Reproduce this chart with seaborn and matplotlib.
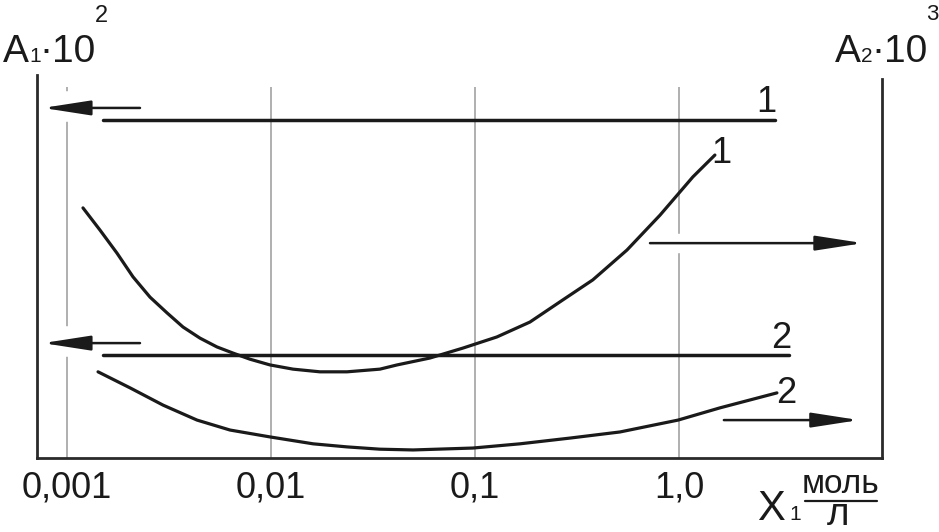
import matplotlib.pyplot as plt
from matplotlib.patches import FancyArrowPatch
import seaborn as sns

# concentration X1, mol/l  (log axis); y in relative units of the plot height
curve1_x = [0.001198, 0.001452, 0.001758, 0.002107, 0.002553, 0.003092, 0.003705,
            0.004487, 0.005434, 0.006511, 0.007887, 0.00989, 0.01283, 0.01738,
            0.02358, 0.0342, 0.0415, 0.0601, 0.0873, 0.128, 0.186, 0.270, 0.378,
            0.556, 0.807, 1.17, 1.50]
curve1_y = [65.3, 59.5, 53.5, 47.3, 42.0, 37.9, 34.2, 31.3, 29.0, 27.4, 25.8, 24.3,
            23.2, 22.5, 22.5, 23.2, 24.3, 26.1, 28.7, 31.6, 35.5, 41.3, 46.5, 54.3,
            63.4, 73.4, 79.1]
curve2_x = [0.00142, 0.00204, 0.00296, 0.00434, 0.0063, 0.0099, 0.0161, 0.02358,
            0.0342, 0.0497, 0.0977, 0.166, 0.292, 0.514, 0.99, 1.59, 3.02]
curve2_y = [22.5, 18.3, 13.8, 9.9, 7.3, 5.5, 3.7, 2.9, 2.3, 2.1, 2.6, 3.7, 5.2, 6.8,
            9.9, 13.1, 17.0]
line1_x = [0.0015, 2.95]
line1_y = [88.3, 88.3]
line2_x = [0.0015, 3.46]
line2_y = [26.9, 26.9]

tick_values = [0.001, 0.01, 0.1, 1.0]
tick_labels = ['0,001', '0,01', '0,1', '1,0']

# arrows: (tail x, tip x, y) -> which axis a curve belongs to
left_arrows = [(0.00228, 0.000762, 91.4), (0.00228, 0.000762, 30.0)]
right_arrows = [(0.721, 7.98, 56.1), (1.66, 7.62, 9.9)]

sns.set_style('white')
plt.rcParams['font.family'] = ['Liberation Sans Narrow', 'Liberation Sans', 'DejaVu Sans']
ink = '#1a1a1a'

fig = plt.figure(figsize=(9.39, 5.32), dpi=100)
ax = fig.add_axes([37 / 939, 1 - 458 / 532, (882 - 37) / 939, (458 - 75) / 532])
ax.set_xscale('log')
ax.set_xlim(0.000713, 9.89)
ax.set_ylim(0, 100)

# thin gray grid, stopping a little below the top
ax.vlines(tick_values, 0, 96.9, color='#9a9a9a', lw=1.1, zorder=0)

# white gaps in the grid behind the arrows
for tail, tip, y in left_arrows:
    ax.plot([0.00088, 0.00114], [y + 0.5, y + 0.5], color='white', lw=22,
            solid_capstyle='butt', zorder=1)
ax.plot([0.9, 1.1], [right_arrows[0][2], right_arrows[0][2]], color='white', lw=14,
        solid_capstyle='butt', zorder=1)

for xs, ys, w in [(curve1_x, curve1_y, 2.3), (curve2_x, curve2_y, 2.3),
                  (line1_x, line1_y, 2.5), (line2_x, line2_y, 2.5)]:
    sns.lineplot(x=xs, y=ys, ax=ax, color=ink, lw=w, sort=False, estimator=None,
                 zorder=3)

for tail, tip, y in left_arrows + right_arrows:
    ax.add_patch(FancyArrowPatch((tail, y), (tip, y),
                                 arrowstyle='-|>,head_length=2.9,head_width=0.45',
                                 mutation_scale=10, lw=1.8, color=ink,
                                 shrinkA=0, shrinkB=0, zorder=4))

# curve numbers
lab = dict(fontsize=26, color=ink, ha='center', textcoords='offset pixels')
ax.annotate('1', xy=(line1_x[-1], line1_y[-1]), xytext=(-9, 8), va='baseline', **lab)
ax.annotate('1', xy=(curve1_x[-1], curve1_y[-1]), xytext=(6, -8), va='baseline', **lab)
ax.annotate('2', xy=(line2_x[-1], line2_y[-1]), xytext=(-8, 7), va='baseline', **lab)
ax.annotate('2', xy=(curve2_x[-1], curve2_y[-1]), xytext=(9, -10), va='baseline', **lab)

ax.set_xticks(tick_values)
ax.set_xticklabels(tick_labels)
ax.minorticks_off()
ax.set_yticks([])
ax.tick_params(axis='x', length=0, pad=9, labelsize=26, labelcolor=ink)
ax.spines['top'].set_visible(False)
for side in ['left', 'right', 'bottom']:
    ax.spines[side].set_color('#2a2a2a')
    ax.spines[side].set_linewidth(2)
ax.spines['right'].set_bounds(0, 99)


def put(x, y, s, size, ha='left'):
    fig.text(x / 939, 1 - y / 532, s, fontsize=size, color=ink, ha=ha, va='baseline')


# left axis label  A1·10^2
put(3, 62, 'A', 28)
put(29, 62, '1', 15)
put(46, 62, '·', 28, ha='center')
put(52, 62, '10', 28)
put(95, 22, '2', 17)
# right axis label  A2·10^3
put(835, 62, 'A', 28)
put(861, 62, '2', 15)
put(878, 62, '·', 28, ha='center')
put(884, 62, '10', 28)
put(926, 20, '3', 16)
# x label  X1 моль/л
put(757, 520, 'X', 30)
put(789, 520, '1', 15)
put(841, 493, 'моль', 24, ha='center')
fig.add_artist(plt.Line2D([805 / 939, 877 / 939], [1 - 501 / 532, 1 - 501 / 532],
                          color=ink, lw=1.6))
put(838, 525, 'л', 28, ha='center')

fig.savefig('out.png', dpi=100)
